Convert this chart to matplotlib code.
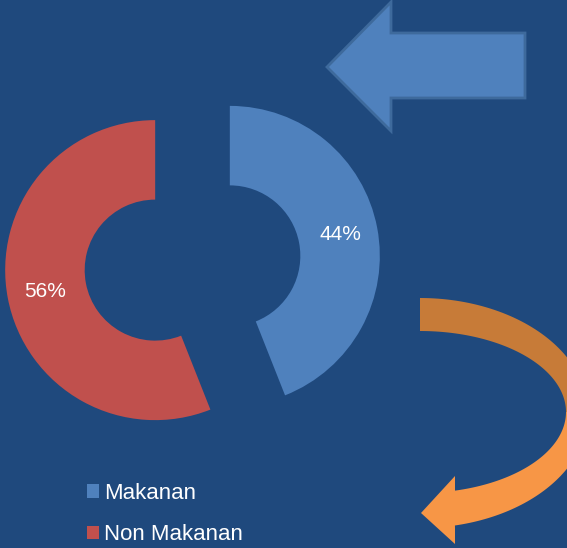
import numpy as np
import matplotlib
matplotlib.use("Agg")
import matplotlib.pyplot as plt
from matplotlib.patches import Polygon, Patch

# ---- data ----
categories = ["Makanan", "Non Makanan"]
values = [44, 56]
colors = ["#4F81BD", "#C0504D"]

BG = "#1F497D"
W, H = 567, 548

plt.rcParams['font.family'] = ['Liberation Sans', 'DejaVu Sans']

fig = plt.figure(figsize=(W / 100, H / 100), dpi=100, facecolor=BG)
ax = fig.add_axes([0, 0, 1, 1])
ax.set_facecolor(BG)


def P(x, y):
    """image pixel coords (y down) -> data coords (y up)"""
    return (x, H - y)


R = 150
center = P(192.5, 263)
wedges, texts, autotexts = ax.pie(
    values, colors=colors, startangle=90, counterclock=False,
    radius=R, center=center, explode=[38, 38],
    wedgeprops=dict(width=R * 0.53, linewidth=0),
    autopct='%1.0f%%', pctdistance=0.75,
    textprops=dict(color='white', fontsize=15), frame=False)

ax.set_xlim(0, W)
ax.set_ylim(0, H)
ax.set_aspect('equal')
ax.axis('off')

# ---- decorative blue arrow (top right) ----
blue_arrow = [P(327, 67), P(391, 2), P(391, 33), P(525, 33), P(525, 98),
              P(391, 98), P(391, 131)]
ax.add_patch(Polygon(blue_arrow, closed=True, facecolor="#4F81BD",
                     edgecolor="#3E6A9C", linewidth=2, zorder=3))

# ---- decorative orange curved arrow ----
cx, cy = 420, 413
def ell(rx, ry, th, cyy=cy):
    return P(cx + rx * np.cos(th), cyy + ry * np.sin(th))

th_top = np.linspace(-np.pi / 2, 0.02, 60)
outer_top = [ell(168, 115, t) for t in th_top]
inner_top = [ell(146, 81, t, 412) for t in th_top[::-1]]
ax.add_patch(Polygon(outer_top + inner_top, closed=True,
                     facecolor="#C77B38", edgecolor="none", zorder=3))

th_bot = np.linspace(0.0, np.deg2rad(78), 60)
outer_bot = [ell(168, 115, t) for t in th_bot]
inner_bot = [ell(146, 81, t, 412) for t in th_bot[::-1]]
head = [P(455, 528), P(455, 544), P(421, 513), P(455, 476), P(455, 492)]
ax.add_patch(Polygon(outer_bot + head + inner_bot,
                     closed=True, facecolor="#F79646", edgecolor="none",
                     zorder=3))

# ---- legend ----
handles = [Patch(facecolor=c, edgecolor='none') for c in colors]
leg = ax.legend(handles, categories, loc='upper left',
                bbox_to_anchor=P(87, 483), bbox_transform=ax.transData,
                frameon=False, fontsize=16, labelcolor='white',
                handlelength=0.55, handleheight=0.55, handletextpad=0.2,
                labelspacing=0.92, borderpad=0, borderaxespad=0)

fig.savefig("out.png", dpi=100, facecolor=BG)
